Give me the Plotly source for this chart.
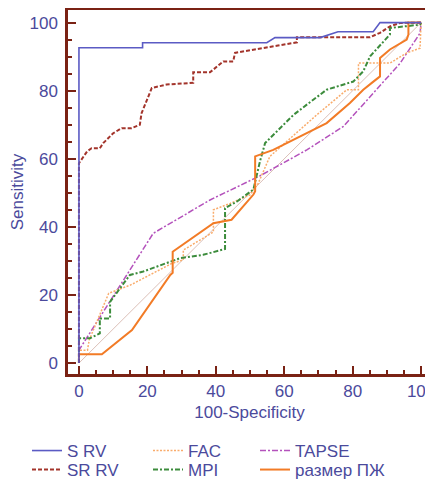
import plotly.graph_objects as go

# ROC curves, values (100-Specificity, Sensitivity)
s_rv_x = [0, 0, 18.6, 18.6, 54.9, 57.3, 70.5, 75.7, 86.0, 88.0, 100]
s_rv_y = [0, 92.6, 92.6, 94.1, 94.1, 95.6, 95.6, 97.3, 97.3, 100, 100]

sr_rv_x = [0, 0, 2.4, 3.7, 6.1, 7.1, 10.0, 12.5, 15.4, 17.8, 18.3, 21.3, 25.6,
           33.4, 33.4, 38.3, 42.2, 45.1, 45.6, 51.0, 57.8, 63.7, 63.7, 85.1,
           88.0, 90.9, 93.9, 100]
sr_rv_y = [0, 58.7, 62.2, 63.1, 63.1, 64.6, 67.5, 69.0, 69.0, 70.0, 73.4, 80.8,
           81.8, 82.3, 85.4, 85.4, 88.6, 88.6, 91.1, 92.1, 93.2, 94.2, 95.7,
           95.7, 97.0, 98.9, 99.9, 100]

fac_x = [0, 0, 2.5, 3.0, 8.7, 15.0, 27.2, 30.5, 30.5, 39.3, 39.3, 44.2, 50.0,
         52.4, 55.8, 69.5, 78.3, 81.7, 81.7, 90.9, 95.8, 99.7, 100]
fac_y = [0, 3.8, 3.8, 6.8, 20.5, 22.9, 29.3, 30.3, 33.2, 38.5, 45.0, 46.9, 49.4,
         52.8, 60.7, 72.9, 80.3, 80.3, 88.1, 88.1, 91.1, 92.5, 100]

mpi_x = [0, 0, 3.2, 6.1, 6.1, 9.1, 9.1, 14.9, 18.8, 29.5, 36.3, 42.7, 42.7,
         46.1, 51.0, 52.9, 54.4, 62.7, 66.6, 72.4, 80.2, 83.1, 85.1, 90.9,
         90.9, 99.7, 100]
mpi_y = [0, 7.3, 7.3, 8.7, 13.1, 13.1, 18.0, 25.9, 26.9, 30.8, 31.8, 33.5, 45.5,
         47.4, 51.0, 59.2, 64.6, 72.9, 75.9, 80.3, 82.7, 85.7, 90.1, 96.5,
         98.4, 99.4, 100]

tapse_x = [0, 0, 21.7, 38.3, 52.9, 66.6, 77.3, 87.0, 93.9, 99.7, 100]
tapse_y = [0, 3.8, 38.1, 47.9, 55.0, 62.6, 69.5, 80.3, 88.1, 96.9, 100]

rv_size_x = [0, 0, 6.7, 10.6, 15.5, 26.7, 27.4, 27.4, 39.3, 44.6, 51.0, 51.5,
             51.5, 56.8, 67.5, 72.4, 79.2, 83.1, 85.6, 88.0, 88.0, 90.9, 95.8,
             96.3, 96.3, 99.7, 100]
rv_size_y = [0, 2.6, 2.6, 5.8, 9.7, 25.9, 26.5, 32.7, 41.1, 42.1, 49.5, 50.5,
             60.7, 62.6, 68.0, 70.5, 76.4, 80.3, 82.3, 84.2, 89.6, 92.1, 95.0,
             96.5, 100, 100, 100]

diag = [0, 100]

AXIS = "#7a2214"
TEXT = "#4b4a9c"
FONT = "Liberation Sans, Arial, sans-serif"

fig = go.Figure()

fig.add_trace(go.Scatter(x=diag, y=diag, mode="lines", showlegend=False,
                         line=dict(color="#dcc0b8", width=1)))

# name, x, y, colour, dash, width, legend slot (column, row)
series = [
    ("TAPSE", tapse_x, tapse_y, "#b452bc", "6px,2px,2px,2px", 1.5, (2, 0)),
    ("FAC", fac_x, fac_y, "#f9ac6c", "2px,1.5px", 1.5, (1, 0)),
    ("MPI", mpi_x, mpi_y, "#3c8c3c", "5px,2px,2px,2px", 2, (1, 1)),
    ("размер ПЖ", rv_size_x, rv_size_y, "#f27b26", "solid", 2, (2, 1)),
    ("SR RV", sr_rv_x, sr_rv_y, "#a3342b", "4px,2px", 2, (0, 1)),
    ("S RV", s_rv_x, s_rv_y, "#5b5bc4", "solid", 1.6, (0, 0)),
]

# legend grid: one small legend per entry, 3 columns x 2 rows
col_x = [19, 140, 247]
row_y = [425, 444]

legends = {}
for i, (name, xs, ys, color, dash, width, (c, r)) in enumerate(series):
    key = "legend" if i == 0 else f"legend{i + 1}"
    legends[key] = dict(
        orientation="h", xref="container", yref="container",
        x=col_x[c] / 425, y=1 - row_y[r] / 471,
        xanchor="left", yanchor="top", itemwidth=30,
        font=dict(family=FONT, size=17, color=TEXT),
        bgcolor="rgba(0,0,0,0)",
    )
    fig.add_trace(go.Scatter(
        x=xs, y=ys, mode="lines", name=name, legend=key,
        line=dict(color=color, dash=dash, width=width),
    ))

axis_common = dict(
    showgrid=False, zeroline=False, showline=True, mirror=True,
    linecolor=AXIS, linewidth=2.5, automargin=False,
    ticks="inside", ticklen=8, tickwidth=2, tickcolor=AXIS,
    tickfont=dict(family=FONT, size=17, color=TEXT),
    tickvals=[0, 20, 40, 60, 80, 100], ticklabeloverflow="allow",
    minor=dict(ticks="inside", ticklen=4, tickwidth=1.5, tickcolor=AXIS, dtick=5),
)

fig.update_xaxes(
    range=[-3.2, 102.9], ticklabelstandoff=0,
    title=dict(text="100-Specificity", standoff=6,
               font=dict(family=FONT, size=17, color=TEXT)),
    **axis_common,
)
fig.update_yaxes(
    range=[-3.2, 103.7], ticklabelstandoff=4,
    title=dict(text="Sensitivity", standoff=4,
               font=dict(family=FONT, size=17, color=TEXT)),
    **axis_common,
)

# the page body adds an 8px offset, so the figure is 8px smaller each way
fig.update_layout(
    width=425, height=471,
    margin=dict(l=60, r=2, t=2, b=105, autoexpand=False),
    paper_bgcolor="white", plot_bgcolor="white",
    font=dict(family=FONT, size=17, color=TEXT),
    **legends,
)

fig.write_html("out.html")
